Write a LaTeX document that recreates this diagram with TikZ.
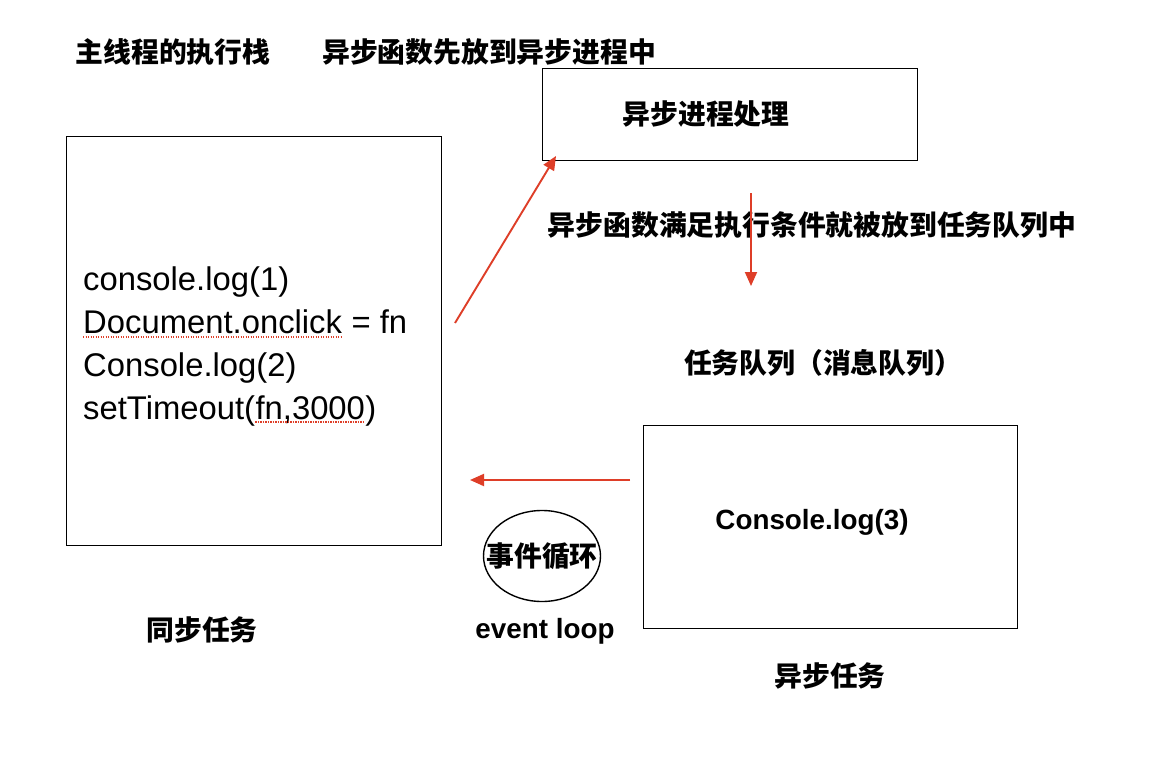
\documentclass[tikz,border=0pt]{standalone}
\usepackage{fontspec}
\setmainfont{Liberation Sans}
\newfontfamily\cjk{Noto Sans CJK SC}
\usetikzlibrary{arrows.meta,shapes.geometric}
\definecolor{arrowred}{RGB}{222,62,40}
\begin{document}
\begin{tikzpicture}[x=1pt,y=-1pt,
  box/.style={draw, line width=0.9pt},
  zh/.style={font=\cjk\bfseries\fontsize{27.8}{32}\selectfont, inner sep=0pt},
  code/.style={font=\fontsize{32.8}{38}\selectfont, inner sep=0pt, anchor=base west},
  lat/.style={font=\bfseries\fontsize{27.8}{32}\selectfont, inner sep=0pt},
  redarrow/.style={draw=arrowred, line width=1.9pt, -{Triangle[length=14pt,width=12pt]}},
  spell/.style={draw=arrowred, line width=1.2pt, dash pattern=on 1.2pt off 1.3pt},
]
\useasboundingbox[fill=white] (0,0) rectangle (1160,776);

% titles
\node[zh] (t1) at (173,52) {主线程的执行栈};
\node[zh] (t2) at (489,52) {异步函数先放到异步进程中};

% main stack box
\node[box, minimum width=375pt, minimum height=409pt, inner sep=0pt] (stack) at (253.5,340.5) {};
\node[code] (c1) at (83,290) {console.log(1)};
\node[code] (c2a) at (83,333) {Document.onclick};
\node[code] (c2b) at (c2a.base east) {\ = fn};
\node[code] (c3) at (83,376) {Console.log(2)};
\node[code] (c4a) at (83,419) {setTimeout(};
\node[code] (c4b) at (c4a.base east) {fn,3000};
\node[code] (c4c) at (c4b.base east) {)};
\draw[spell] ([yshift=-4pt]c2a.base west) -- ([yshift=-4pt]c2a.base east);
\draw[spell] ([yshift=-3pt]c4b.base west) -- ([yshift=-3pt]c4b.base east);

% async process box
\node[box, minimum width=375pt, minimum height=92pt, inner sep=0pt] (async) at (729.5,114) {};
\node[zh] (asynct) at (706,114) {异步进程处理};

\node[zh] (cond) at (812,225) {异步函数满足执行条件就被放到任务队列中};
\node[zh] (queue) at (823,363) {任务队列（消息队列）};

% task queue box
\node[box, minimum width=374pt, minimum height=203pt, inner sep=0pt] (tq) at (830,526.5) {};
\node[lat] (c5) at (812,522) {Console.log(3)};

% event loop
\node[draw, line width=1.4pt, ellipse, minimum width=117pt, minimum height=91pt, inner sep=0pt] (loop) at (542,556) {};
\node[zh] (loopt) at (542,556) {事件循环};
\node[lat] (ev) at (545,631) {event loop};

\node[zh] (sync) at (202,630) {同步任务};
\node[zh] (asyncTask) at (830,676) {异步任务};

% arrows
\coordinate (a1s) at (455,323);
\coordinate (a1e) at (556,156);
\coordinate (a2s) at (751,193);
\coordinate (a2e) at (751,286);
\coordinate (a3s) at (630,480);
\coordinate (a3e) at (470,480);
\draw[redarrow] (a1s) -- (a1e);
\draw[redarrow] (a2s) -- (a2e);
\draw[redarrow] (a3s) -- (a3e);
\end{tikzpicture}
\end{document}
